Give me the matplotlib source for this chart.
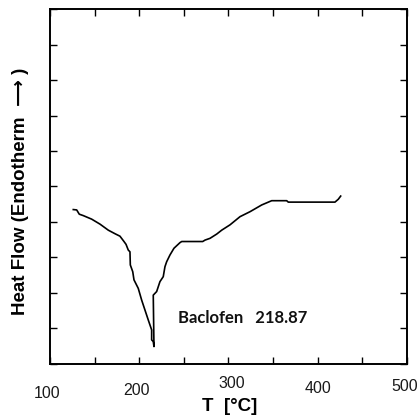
import matplotlib
matplotlib.use("Agg")
import matplotlib.pyplot as plt
from matplotlib.transforms import blended_transform_factory, offset_copy

# Data (DSC thermogram of Baclofen)
temperature = [126.1, 129.9, 132.8, 137.3, 146.7, 156.0, 165.3, 172.8, 178.4, 182.9,
               185.2, 187.7, 189.6, 190.0, 192.7, 194.1, 198.9, 202.7, 206.4, 210.1,
               213.9, 213.9, 215.7, 216.5, 215.7, 219.5, 223.2, 226.9, 228.8, 230.7,
               234.4, 238.9, 245.7, 247.6, 271.1, 273.7, 279.3, 286.8, 292.4, 301.7,
               312.9, 324.1, 337.2, 348.4, 365.2, 367.0, 419.3, 423.0, 425.7]
heat_flow = [4.35, 4.34, 4.22, 4.18, 4.08, 3.94, 3.77, 3.67, 3.60, 3.45,
             3.37, 3.21, 3.16, 2.79, 2.60, 2.37, 2.13, 1.80, 1.52, 1.24,
             0.96, 0.68, 0.63, 0.49, 1.94, 2.04, 2.32, 2.46, 2.74, 2.88,
             3.07, 3.26, 3.42, 3.45, 3.45, 3.49, 3.54, 3.66, 3.77, 3.92,
             4.15, 4.29, 4.48, 4.60, 4.60, 4.56, 4.56, 4.64, 4.73]

x_tick_values = [100, 200, 300, 400, 500]
x_tick_labels = ["100", "200", "300", "400", "500"]
# slight hand-placed offsets of the tick labels in the original (points)
x_label_dx = [-2, -2, 2, 0, -2]
x_label_dy = [-21, -19, -14, -18, -16]

annotation = "Baclofen   218.87"

fig = plt.figure(figsize=(4.17, 4.19), dpi=100)
ax = fig.add_axes([0.1199, 0.1313, 0.8561, 0.8472])

ax.plot(temperature, heat_flow, color="black", lw=1.2)

ax.set_xlim(100, 500)
ax.set_ylim(0, 10)
ax.set_xticks(range(100, 501, 50))
ax.set_yticks(range(0, 11, 1))
ax.tick_params(direction="in", length=5, width=1.0, top=True, right=True,
               labelbottom=False, labelleft=False)
for s in ax.spines.values():
    s.set_linewidth(1.4)

trans = blended_transform_factory(ax.transData, ax.transAxes)
for v, lab, dx, dy in zip(x_tick_values, x_tick_labels, x_label_dx, x_label_dy):
    t = offset_copy(trans, fig=fig, x=dx, y=dy, units="points")
    ax.text(v, 0, lab, transform=t, ha="center", va="center",
            fontsize=11.5, family=["Liberation Sans", "DejaVu Sans"], color="#1a1a1a",
            clip_on=False)

ax.set_xlabel("T  [°C]", fontsize=13.5, fontweight="bold",
              family=["Liberation Sans", "DejaVu Sans"], va="center")
ax.xaxis.set_label_coords(0.504, -0.121)
ax.set_ylabel("Heat Flow (Endotherm  ⟶ )", fontsize=13.5, fontweight="bold",
              family=["Liberation Sans", "DejaVu Sans"], va="center")
ax.yaxis.set_label_coords(-0.084, 0.485)

ax.text(243.4, 1.30, annotation, fontsize=12, fontweight="bold",
        family=["Lato", "DejaVu Sans"], color="#111111", ha="left", va="center")

fig.savefig("out.png", dpi=100)
